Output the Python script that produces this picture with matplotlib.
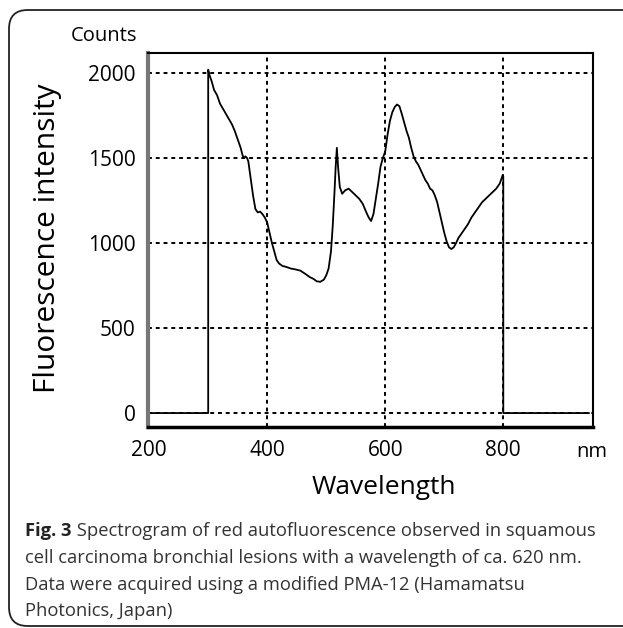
import matplotlib
matplotlib.use('Agg')
import matplotlib.pyplot as plt
from matplotlib.patches import FancyBboxPatch

plt.rcParams['font.family'] = ['Open Sans', 'DejaVu Sans']

# spectrum (nm, counts)
wavelength = [200, 300, 300, 302, 306, 310, 315, 320, 325, 330, 335, 340, 345, 350,
              355, 358, 360, 363, 366, 368, 372, 376, 380, 384, 388, 392, 396, 400,
              404, 408, 412, 416, 420, 426, 432, 440, 448, 456, 464, 472, 478, 484,
              490, 496, 500, 504, 508, 511, 514, 516, 518, 520, 523, 527, 532, 538,
              544, 550, 556, 562, 568, 572, 576, 580, 584, 588, 592, 596, 600, 604,
              608, 612, 616, 620, 624, 628, 632, 636, 640, 644, 648, 652, 656, 660,
              664, 668, 672, 676, 680, 684, 688, 692, 696, 700, 704, 708, 712, 716,
              720, 724, 728, 734, 740, 746, 752, 758, 764, 770, 776, 782, 788, 794,
              799, 800, 800, 945]
counts = [0, 0, 2020, 1990, 1950, 1900, 1870, 1820, 1790, 1760, 1730, 1700, 1660, 1610,
          1560, 1520, 1500, 1510, 1500, 1480, 1380, 1280, 1200, 1180, 1185, 1170, 1150, 1120,
          1060, 1000, 950, 900, 880, 865, 860, 850, 845, 838, 820, 800, 790, 775,
          772, 785, 810, 850, 950, 1100, 1300, 1450, 1560, 1450, 1330, 1290, 1310, 1320,
          1300, 1280, 1260, 1230, 1180, 1150, 1130, 1170, 1260, 1350, 1450, 1500, 1540, 1640,
          1720, 1770, 1800, 1815, 1805, 1760, 1710, 1660, 1620, 1560, 1510, 1480, 1460, 1430,
          1400, 1370, 1350, 1320, 1310, 1280, 1240, 1180, 1120, 1060, 1010, 975, 965, 975,
          1000, 1030, 1050, 1080, 1110, 1150, 1180, 1210, 1240, 1260, 1280, 1300, 1320, 1350,
          1400, 1390, 0, 0]

xticks = [200, 400, 600, 800]
yticks = [0, 500, 1000, 1500, 2000]

fig = plt.figure(figsize=(6.23, 6.28), dpi=100)

# rounded frame around the figure panel
frame = FancyBboxPatch((9 / 623, 2 / 628), 700 / 623, 616 / 628,
                       boxstyle='round,pad=0,rounding_size=0.03',
                       transform=fig.transFigure, fill=False,
                       edgecolor='#222222', linewidth=1.3)
fig.patches.append(frame)

ax = fig.add_axes([148 / 623, 1 - 427 / 628, 445 / 623, 374 / 628])
ax.plot(wavelength, counts, color='black', linewidth=1.3)

ax.set_xlim(198, 952)
ax.set_ylim(-82, 2118)
ax.set_xticks(xticks)
ax.set_yticks(yticks)
ax.tick_params(length=0, labelsize=15, pad=9)
ax.tick_params(axis='x', pad=9)
for v in xticks[1:]:
    ax.axvline(v, color='black', linestyle=(0, (2, 2)), linewidth=1.4, zorder=0)
for v in yticks:
    ax.axhline(v, color='black', linestyle=(0, (2, 2)), linewidth=1.4, zorder=0)

ax.spines['left'].set_color('#777777')
ax.spines['left'].set_linewidth(3)
ax.spines['bottom'].set_linewidth(2.5)
ax.spines['top'].set_linewidth(1.5)
ax.spines['right'].set_linewidth(1.5)

fig.text(104 / 623, 1 - 36 / 628, 'Counts', fontsize=14.5, ha='center', va='center')
fig.text(592 / 623, 1 - 452 / 628, 'nm', fontsize=14.5, ha='center', va='center')
fig.text(48 / 623, 1 - 238 / 628, 'Fluorescence intensity', fontsize=21.5,
         rotation=90, ha='center', va='center')
fig.text(384 / 623, 1 - 488 / 628, 'Wavelength', fontsize=19, ha='center', va='center')

# caption
t1 = fig.text(25 / 623, 1 - 536 / 628, 'Fig. 3', fontsize=13.2, fontweight='bold',
              va='baseline', color='#222222')
ax.annotate(' Spectrogram of red autofluorescence observed in squamous',
            xy=(1, 0), xycoords=t1, fontsize=13.2, va='bottom', color='#333333',
            annotation_clip=False)
lines = ['cell carcinoma bronchial lesions with a wavelength of ca. 620 nm.',
         'Data were acquired using a modified PMA-12 (Hamamatsu',
         'Photonics, Japan)']
for i, s in enumerate(lines):
    fig.text(25 / 623, 1 - (563 + 26.7 * i) / 628, s, fontsize=13.2,
             va='baseline', color='#333333')

plt.savefig('out.png', dpi=100)
